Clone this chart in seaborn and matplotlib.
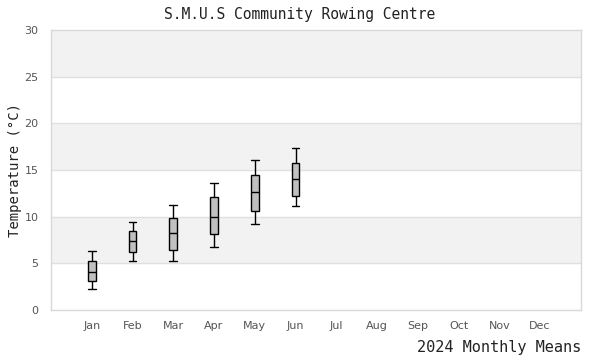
import pandas as pd
import matplotlib
matplotlib.use("Agg")
import matplotlib.pyplot as plt
import seaborn as sns

months = ["Jan", "Feb", "Mar", "Apr", "May", "Jun",
          "Jul", "Aug", "Sep", "Oct", "Nov", "Dec"]
# five-number summaries (min, q1, median, q3, max)
jan = [2.2, 3.1, 4.1, 5.2, 6.3]
feb = [5.2, 6.2, 7.4, 8.5, 9.4]
mar = [5.2, 6.4, 8.2, 9.9, 11.2]
apr = [6.7, 8.1, 10.0, 12.1, 13.6]
may = [9.2, 10.6, 12.6, 14.5, 16.1]
jun = [11.1, 12.2, 14.0, 15.7, 17.4]

rows = []
for m, vals in zip(months, [jan, feb, mar, apr, may, jun]):
    for v in vals:
        rows.append({"Month": m, "Temp": v})
df = pd.DataFrame(rows)

sns.set_style("white")
fig = plt.figure(figsize=(6, 3.6), dpi=100)
ax = fig.add_axes([0.085, 0.139, 0.883, 0.778])

# alternating bands
for lo in range(0, 30, 5):
    if (lo // 5) % 2 == 1:
        ax.axhspan(lo, lo + 5, color="#f2f2f2", zorder=0, lw=0)
for y in range(5, 30, 5):
    ax.axhline(y, color="#e0e0e0", lw=1, zorder=0.5)

sns.boxplot(data=df, x="Month", y="Temp", order=months, ax=ax,
            whis=(0, 100), width=0.19, color="#c0c0c0", linecolor="black",
            linewidth=1, saturation=1, showfliers=False, capwidths=0.19)

ax.set_xlim(-1, 12)
ax.set_ylim(0, 30)
ax.set_yticks(range(0, 31, 5))
ax.tick_params(axis="both", length=0, labelsize=8, labelcolor="#555555")
ax.tick_params(axis="y", pad=9)
ax.tick_params(axis="x", pad=8)
ax.set_xlabel("")
ax.set_ylabel("Temperature (°C)", family="DejaVu Sans Mono", fontsize=10,
              color="#222222")
ax.yaxis.set_label_coords(-0.055, 0.5)
for s in ax.spines.values():
    s.set_color("#d9d9d9")
    s.set_linewidth(1)

fig.text(0.5, 0.96, "S.M.U.S Community Rowing Centre", ha="center", va="center",
         family="DejaVu Sans Mono", fontsize=10.5, color="#222222")
fig.text(0.969, 0.035, "2024 Monthly Means", ha="right", va="center",
         family="DejaVu Sans Mono", fontsize=11, color="#222222")

fig.savefig("out.png", dpi=100)
